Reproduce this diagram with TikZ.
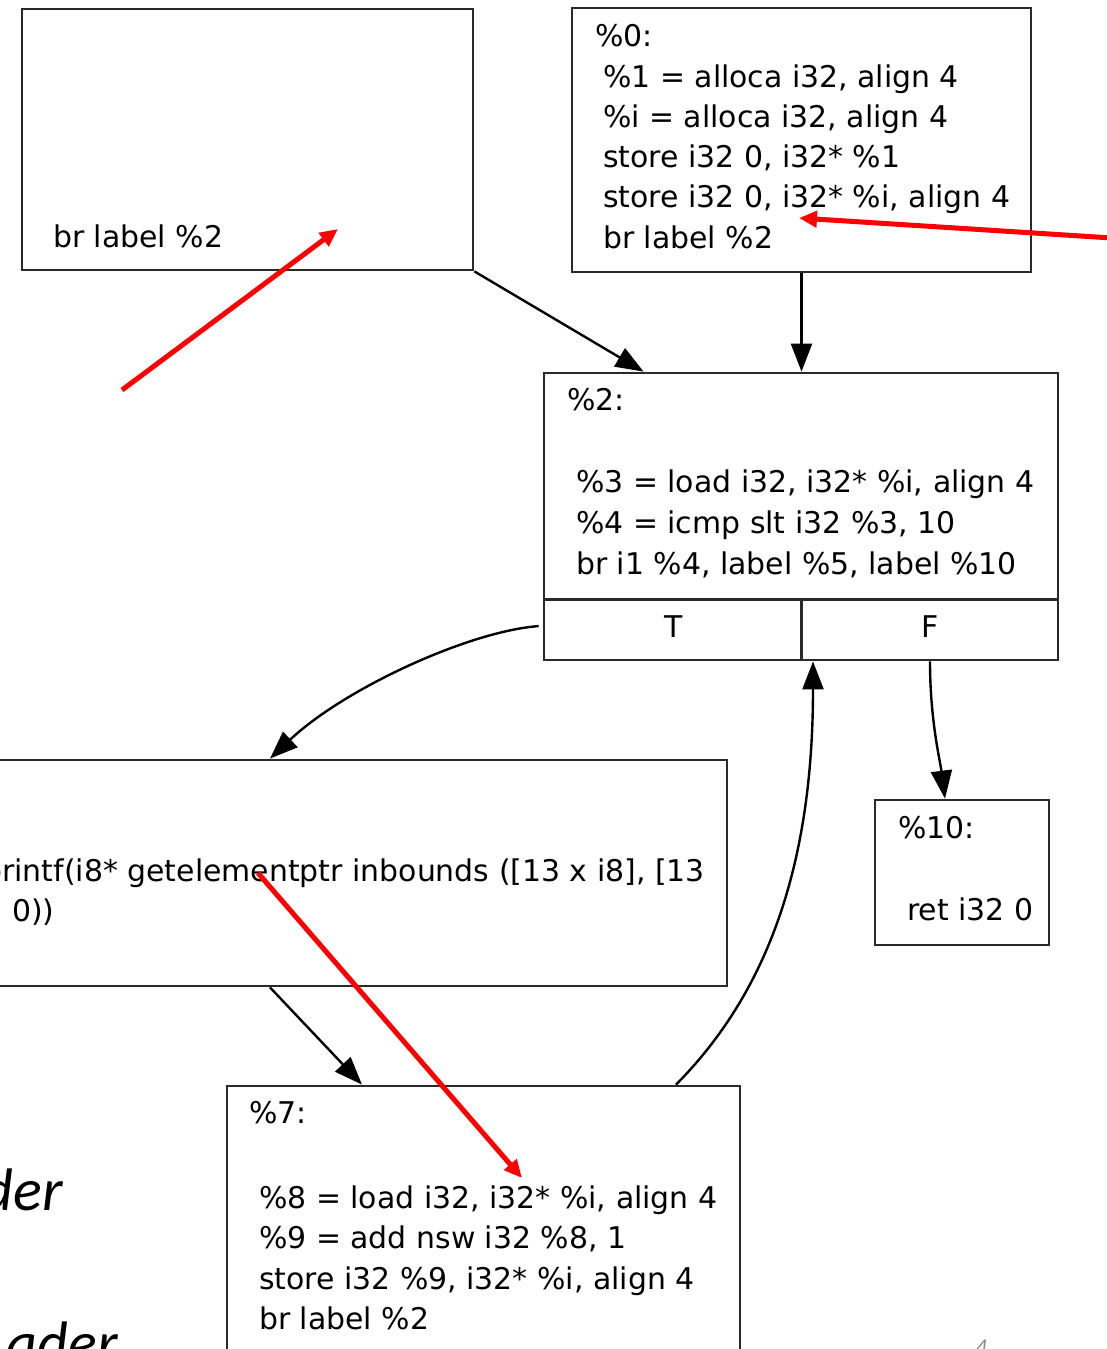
\documentclass[tikz,border=0pt]{standalone}
\usepackage{fontspec}
\setmainfont{DejaVu Sans}
\newfontfamily\slidefont{Carlito}
\usetikzlibrary{arrows.meta}
\definecolor{boxgray}{HTML}{2A2A2A}
\definecolor{annotred}{HTML}{FF0000}
\definecolor{pagegray}{HTML}{8C8C8C}
\begin{document}
\begin{tikzpicture}[x=1pt,y=-1pt,
  blk/.style={draw=boxgray, line width=2.8pt, rectangle, inner sep=0pt},
  code/.style={inner sep=0pt, anchor=base west, text=black,
    font=\fontsize{29.9}{40}\selectfont},
  flow/.style={draw=black, line width=2.4pt, -{Triangle[length=28pt,width=21pt]}},
  redarrow/.style={draw=annotred, line width=5pt, -{Triangle[length=18pt,width=16pt]}},
  slide/.style={inner sep=0pt, anchor=base east, text=black,
    font=\slidefont\itshape\fontsize{60}{72}\selectfont}
]
\useasboundingbox (0,0) rectangle (1107,1349);
\fill[white] (0,0) rectangle (1107,1349);
\clip (0,0) rectangle (1107,1349);

% basic blocks
\node[blk, minimum width=451pt, minimum height=261pt] (entry) at (247.5,139.5) {};
\node[blk, minimum width=459pt, minimum height=264pt] (b0) at (801.5,140) {};
\node[blk, minimum width=514pt, minimum height=287pt] (b2) at (801,516.5) {};
\node[blk, minimum width=747pt, minimum height=226pt] (b5) at (353.5,873) {};
\node[blk, minimum width=174pt, minimum height=145pt] (b10) at (962,872.5) {};
\node[blk, minimum width=513pt, minimum height=300pt] (b7) at (483.5,1236) {};

% true / false ports of the branch block
\draw[boxgray, line width=2.8pt] ([yshift=62pt]b2.south west) -- ([yshift=62pt]b2.south east);
\draw[boxgray, line width=2.8pt] ([xshift=259pt]b2.south west) -- ++(0,-62);
\node[code, anchor=base] (portT) at (674,637) {T};
\node[code, anchor=base] (portF) at (930,637) {F};

% block contents
\node[code] (e1) at (53,247) {br label \%2};

\node[code] (l0) at (595,46) {\%0:};
\node[code] (l01) at (603,87) {\%1 = alloca i32, align 4};
\node[code] (l02) at (603,127) {\%i = alloca i32, align 4};
\node[code] (l03) at (603,167) {store i32 0, i32* \%1};
\node[code] (l04) at (603,207) {store i32 0, i32* \%i, align 4};
\node[code] (l05) at (603,248) {br label \%2};

\node[code] (l2) at (567,410) {\%2:};
\node[code] (l21) at (576,492) {\%3 = load i32, i32* \%i, align 4};
\node[code] (l22) at (576,533) {\%4 = icmp slt i32 \%3, 10};
\node[code] (l23) at (576,574) {br i1 \%4, label \%5, label \%10};

\node[code, anchor=base east] (l51) at (705,881) {printf(i8* getelementptr inbounds ([13 x i8], [13};
\node[code] (l52) at (12,921) {0))};

\node[code] (l10) at (898,838) {\%10:};
\node[code] (l101) at (907,920) {ret i32 0};

\node[code] (l7) at (249,1123) {\%7:};
\node[code] (l71) at (259,1208) {\%8 = load i32, i32* \%i, align 4};
\node[code] (l72) at (259,1248) {\%9 = add nsw i32 \%8, 1};
\node[code] (l73) at (259,1289) {store i32 \%9, i32* \%i, align 4};
\node[code] (l74) at (259,1329) {br label \%2};

% control-flow edges
\draw[flow] (entry.south east) -- ([xshift=101pt]b2.north west);
\draw[flow] (b0.south) -- (b0.south |- b2.north);
\draw[flow] ([xshift=-4pt]b2.west |- portT) .. controls (470,631) and (345,688) .. ([xshift=-83.5pt]b5.north);
\draw[flow] (portF |- b2.south) .. controls (930,720) and (940,760) .. ([xshift=-17pt]b10.north);
\draw[flow] ([xshift=-83.5pt]b5.south) -- ([xshift=-121.5pt]b7.north);
\draw[flow] ([xshift=192.5pt]b7.north) .. controls (770,990) and (813,860) .. ([xshift=12pt]b2.south);

% red annotation arrows
\coordinate (r1s) at (122,390);
\coordinate (r1e) at (338,229);
\coordinate (r2s) at (1112,238);
\coordinate (r2e) at (799,218);
\coordinate (r3s) at (258,873);
\coordinate (r3e) at (522,1178);
\draw[redarrow] (r1s) -- (r1e);
\draw[redarrow] (r2s) -- (r2e);
\draw[redarrow] (r3s) -- (r3e);

% slide text around the graph
\node[slide] (s1) at (63,1210) {der};
\node[slide] (s2) at (118,1363) {ader};
\node[inner sep=0pt, anchor=north west, text=pagegray,
  font=\slidefont\itshape\fontsize{24}{28}\selectfont] (pg) at (975,1340) {4};
\end{tikzpicture}
\end{document}
